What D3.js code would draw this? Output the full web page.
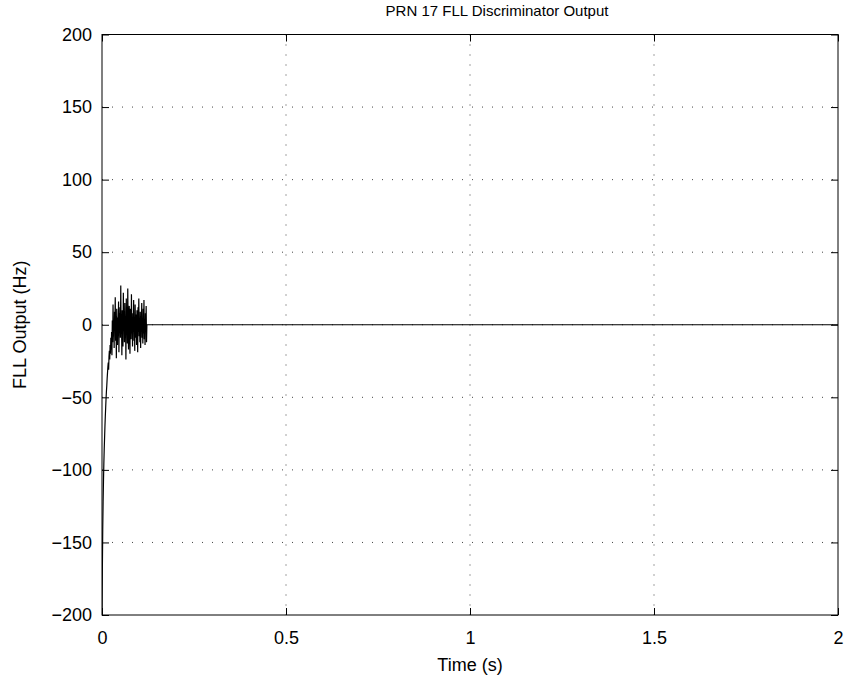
<!DOCTYPE html>
<html>
<head>
<meta charset="utf-8">
<script src="https://cdn.jsdelivr.net/npm/d3@7"></script>
<style>
  body { margin: 0; background: #fff; }
  svg { display: block; font-family: "Liberation Sans", Arial, sans-serif; }
</style>
</head>
<body>
<svg id="chart" width="844" height="683"></svg>
<script>
// Data: FLL discriminator output, one sample per ms, then flat at zero
const sampleStep = 0.001;
const fllOutput = [
  -200, -168, -141, -122, -108, -96, -86, -78, -70, -63,
  -57, -51, -46, -42, -37, -33, -29, -26, -31, -22,
  -18, -24, -14, -20, -9, -17, -5, -21, 3, -12,
  14, -8, 2, -16, 9, -4, 19, -11, 6, -23,
  11, -2, -14, 5, -7, 16, -19, 8, -3, 12,
  -9, 27, -6, 3, -21, 10, -1, -15, 22, -4,
  7, -12, 15, -8, 2, -24, 18, -5, 9, -13,
  25, -2, -17, 6, 13, -7, -20, 11, 1, -10,
  21, -6, 4, -15, 8, -3, 17, -11, 5, -18,
  14, -1, -9, 7, -14, 10, 2, -19, 12, -5,
  18, -8, 3, -12, 9, -16, 6, -2, 15, -9,
  4, -13, 11, -6, 17, -10, 2, -14, 8, -4,
  13, -12, 0
];
const tailTimes = [0.123, 2];
const tailValues = [0, 0];

const xTicks = [0, 0.5, 1, 1.5, 2];
const yTicks = [-200, -150, -100, -50, 0, 50, 100, 150, 200];

const titleText = 'PRN 17 FLL Discriminator Output';
const xLabel = 'Time (s)';
const yLabel = 'FLL Output (Hz)';

//
// Layout
//
const margin = {left: 102, top: 34.5, right: 6, bottom: 68};
const width = 844 - margin.left - margin.right;
const height = 683 - margin.top - margin.bottom;
const tickLen = 7;
const fontSize = 18;

const svg = d3.select('#chart');
const g = svg.append('g').attr('transform', `translate(${margin.left},${margin.top})`);

const x = d3.scaleLinear().domain([0, 2]).range([0, width]);
const y = d3.scaleLinear().domain([-200, 200]).range([height, 0]);

// points
const points = fllOutput.map((v, i) => [i * sampleStep, v])
  .concat(tailTimes.map((t, i) => [t, tailValues[i]]));

// grid
g.append('g').selectAll('line').data(xTicks.slice(1, -1)).join('line')
  .attr('x1', d => x(d)).attr('x2', d => x(d))
  .attr('y1', 0).attr('y2', height)
  .attr('stroke', '#444').attr('stroke-dasharray', '1,9');
g.append('g').selectAll('line').data(yTicks.slice(1, -1)).join('line')
  .attr('y1', d => y(d)).attr('y2', d => y(d))
  .attr('x1', 0).attr('x2', width)
  .attr('stroke', '#444').attr('stroke-dasharray', '1,9');

// signal
g.append('clipPath').attr('id', 'clip').append('rect')
  .attr('width', width).attr('height', height);
g.append('path')
  .datum(points)
  .attr('clip-path', 'url(#clip)')
  .attr('fill', 'none')
  .attr('stroke', '#000')
  .attr('stroke-width', 1.2)
  .attr('d', d3.line().x(d => x(d[0])).y(d => y(d[1])));

// axes (ticks inside, box on)
const fmt = d => d < 0 ? '\u2212' + Math.abs(d) : String(d);

const xAxis = g.append('g').attr('transform', `translate(0,${height})`)
  .call(d3.axisBottom(x).tickValues(xTicks).tickFormat(fmt).tickSizeInner(-tickLen).tickSizeOuter(0).tickPadding(16));
const yAxis = g.append('g')
  .call(d3.axisLeft(y).tickValues(yTicks).tickFormat(fmt).tickSizeInner(-tickLen).tickSizeOuter(0).tickPadding(10));
g.append('g').attr('transform', `translate(${width},0)`)
  .call(d3.axisLeft(y).tickValues(yTicks).tickFormat('').tickSizeInner(tickLen).tickSizeOuter(0));
g.append('g')
  .call(d3.axisTop(x).tickValues(xTicks).tickFormat('').tickSizeInner(-tickLen).tickSizeOuter(0));

g.selectAll('.domain').remove();
g.selectAll('.tick line').attr('stroke', '#000');
g.selectAll('.tick text').attr('fill', '#000').style('font-size', fontSize + 'px')
  .style('font-family', '"Liberation Sans", Arial, sans-serif');
xAxis.selectAll('.tick text').attr('dy', '0.71em');

g.append('rect')
  .attr('width', width).attr('height', height)
  .attr('fill', 'none').attr('stroke', '#000').attr('stroke-width', 1);

// labels
svg.append('text')
  .attr('x', margin.left + width / 2).attr('y', 671)
  .attr('text-anchor', 'middle').style('font-size', fontSize + 'px')
  .text(xLabel);
svg.append('text')
  .attr('transform', `translate(26,${margin.top + height / 2}) rotate(-90)`)
  .attr('text-anchor', 'middle').style('font-size', fontSize + 'px')
  .text(yLabel);
svg.append('text')
  .attr('x', 497).attr('y', 16)
  .attr('text-anchor', 'middle').style('font-size', '15px')
  .text(titleText);
</script>
</body>
</html>
